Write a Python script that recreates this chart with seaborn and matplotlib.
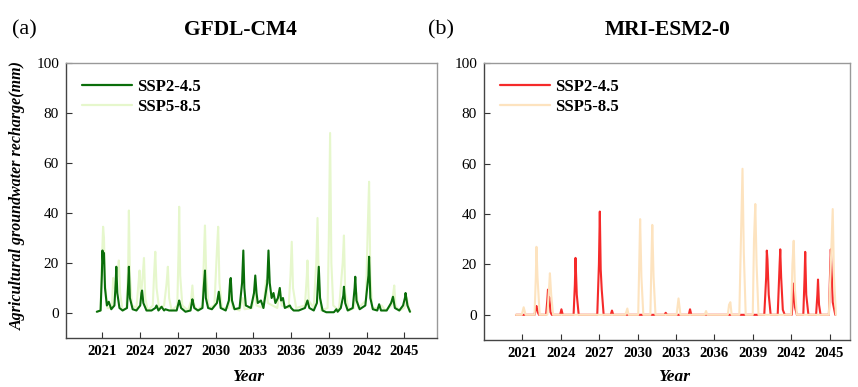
import matplotlib
matplotlib.use("Agg")
import matplotlib.pyplot as plt
import seaborn as sns
import pandas as pd

# ---------------- data ----------------
years_ticks = [2021, 2024, 2027, 2030, 2033, 2036, 2039, 2042, 2045]
series_names = ["SSP2-4.5", "SSP5-8.5"]

gfdl_245_t = [2020.55, 2020.85, 2020.95, 2021.0, 2021.05, 2021.12, 2021.2, 2021.35, 2021.5, 2021.7,
              2021.95, 2022.05, 2022.1, 2022.18, 2022.35, 2022.6, 2022.95, 2023.05, 2023.1, 2023.18,
              2023.4, 2023.7, 2024.0, 2024.1, 2024.15, 2024.25, 2024.5, 2024.9, 2025.2, 2025.3,
              2025.45, 2025.7, 2025.9, 2026.0, 2026.3, 2026.9, 2027.05, 2027.1, 2027.25, 2027.6,
              2028.0, 2028.1, 2028.15, 2028.3, 2028.6, 2028.95, 2029.05, 2029.15, 2029.22, 2029.4,
              2029.7, 2030.1, 2030.25, 2030.4, 2030.8, 2031.05, 2031.15, 2031.2, 2031.3, 2031.5,
              2031.9, 2032.1, 2032.2, 2032.28, 2032.4, 2032.8, 2033.05, 2033.15, 2033.25, 2033.35,
              2033.6, 2033.8, 2034.1, 2034.2, 2034.3, 2034.45, 2034.6, 2034.75, 2034.95, 2035.1,
              2035.2, 2035.35, 2035.5, 2035.9, 2036.0, 2036.2, 2036.6, 2037.1, 2037.3, 2037.45,
              2037.8, 2038.05, 2038.2, 2038.3, 2038.5, 2038.8, 2039.4, 2039.6, 2039.7, 2039.95,
              2040.15, 2040.2, 2040.3, 2040.5, 2040.9, 2041.05, 2041.1, 2041.2, 2041.45, 2041.9,
              2042.15, 2042.2, 2042.3, 2042.5, 2042.85, 2043.0, 2043.15, 2043.6, 2043.95, 2044.1,
              2044.25, 2044.6, 2044.9, 2045.05, 2045.1, 2045.25, 2045.45]
gfdl_245_v = [0.5, 1, 15, 25, 20, 24, 10, 3, 4.5, 1.5,
              3, 12, 18.5, 8, 2, 1, 2, 12, 18.5, 6,
              1.5, 1, 3, 8, 9, 4, 1, 1, 2, 3,
              1, 2.5, 1, 1.5, 1, 1, 4, 5, 2, 0.5,
              1, 4, 5.5, 2, 1, 2, 10, 17, 6, 2,
              1.5, 4, 8.5, 2, 1, 5, 13, 14, 5, 1.5,
              2, 12, 25, 10, 3, 2, 8, 15, 8, 4,
              5, 2, 12, 25, 12, 6, 8, 4, 6, 10,
              5, 6, 2, 3, 2, 1, 1, 2, 5, 2,
              1, 4, 18.5, 6, 1, 0.3, 0.3, 1.5, 0.5, 2,
              7, 10.5, 4, 1, 2, 10, 14.5, 5, 1.5, 3,
              15, 22.5, 6, 1.5, 1, 3.5, 1, 1, 4, 6.5,
              2, 1, 3, 6, 8, 3, 0.5]

gfdl_585_t = [2020.55, 2020.85, 2020.95, 2021.05, 2021.12, 2021.2, 2021.4, 2021.75, 2021.85, 2021.9,
              2022.2, 2022.3, 2022.4, 2022.6, 2022.9, 2023.05, 2023.1, 2023.18, 2023.35, 2023.7,
              2023.9, 2023.95, 2024.05, 2024.2, 2024.3, 2024.4, 2024.6, 2025.0, 2025.1, 2025.2,
              2025.3, 2025.5, 2025.9, 2026.1, 2026.2, 2026.3, 2026.5, 2026.95, 2027.05, 2027.1,
              2027.18, 2027.35, 2027.8, 2028.05, 2028.15, 2028.25, 2028.5, 2028.95, 2029.1, 2029.15,
              2029.25, 2029.45, 2029.9, 2030.1, 2030.2, 2030.3, 2030.5, 2031.0, 2031.2, 2031.35,
              2031.9, 2032.15, 2032.3, 2032.9, 2033.1, 2033.25, 2033.8, 2034.0, 2034.15, 2034.9,
              2035.1, 2035.25, 2035.8, 2035.95, 2036.05, 2036.15, 2036.4, 2037.1, 2037.25, 2037.3,
              2037.4, 2037.8, 2038.0, 2038.1, 2038.2, 2038.4, 2038.9, 2039.0, 2039.1, 2039.2,
              2039.35, 2039.8, 2040.1, 2040.2, 2040.3, 2040.6, 2041.0, 2041.2, 2041.35, 2041.95,
              2042.1, 2042.2, 2042.3, 2042.45, 2042.9, 2043.2, 2043.5, 2044.0, 2044.15, 2044.2,
              2044.3, 2044.6, 2045.0, 2045.2, 2045.35, 2045.5]
gfdl_585_v = [0.5, 1, 20, 34.5, 30, 12, 2, 2, 14, 10,
              15, 21, 8, 1, 2, 20, 41, 15, 3, 2,
              14, 17, 6, 15, 22, 6, 1, 3, 15, 24.5,
              10, 2, 3, 12, 18.5, 6, 1, 3, 25, 42.5,
              15, 3, 1, 5, 11, 4, 1, 3, 28, 35,
              15, 2, 3, 25, 34.5, 12, 2, 2, 8, 2,
              1, 6, 1.5, 2, 10, 3, 2, 13, 4, 2,
              10, 3, 2, 15, 28.5, 10, 2, 3, 15, 21,
              5, 2, 20, 38, 12, 1, 2, 30, 72, 20,
              3, 1, 20, 31, 8, 1, 2, 8, 2, 5,
              35, 52.5, 15, 2, 2, 3, 1, 3, 9, 11,
              3, 1, 2, 6, 2, 0.5]

mri_245_t = [2020.5, 2021.95, 2022.05, 2022.1, 2022.2, 2022.3, 2022.85, 2022.95, 2023.0, 2023.05,
             2023.1, 2023.2, 2023.3, 2023.95, 2024.05, 2024.15, 2025.0, 2025.1, 2025.15, 2025.25,
             2025.4, 2026.85, 2026.98, 2027.05, 2027.12, 2027.2, 2027.35, 2027.9, 2028.0, 2028.1,
             2032.1, 2032.2, 2032.3, 2034.0, 2034.1, 2034.2, 2039.9, 2040.05, 2040.1, 2040.15,
             2040.25, 2040.4, 2040.95, 2041.1, 2041.15, 2041.22, 2041.35, 2041.5, 2042.05, 2042.15,
             2042.2, 2042.3, 2042.45, 2042.95, 2043.05, 2043.1, 2043.18, 2043.35, 2043.95, 2044.05,
             2044.1, 2044.18, 2044.3, 2044.95, 2045.05, 2045.1, 2045.15, 2045.25, 2045.45]
mri_245_v = [0, 0, 3, 3.5, 1, 0, 0, 6, 10, 5,
             7, 1, 0, 0, 2.2, 0, 0, 12, 22.6, 8,
             0, 0, 20, 41, 18, 10, 0, 0, 1.7, 0,
             0, 0.8, 0, 0, 2.2, 0, 0, 15, 25.5, 22,
             8, 0, 0, 20, 26, 15, 2, 0, 0, 8,
             12.4, 3, 0, 0, 15, 25, 8, 0, 0, 8,
             14, 4, 0, 0, 18, 26, 20, 5, 0]

mri_585_t = [2020.5, 2020.95, 2021.1, 2021.25, 2021.95, 2022.05, 2022.1, 2022.18, 2022.35, 2022.95,
             2023.1, 2023.15, 2023.25, 2023.4, 2029.05, 2029.2, 2029.3, 2030.05, 2030.15, 2030.2,
             2030.3, 2030.45, 2031.0, 2031.1, 2031.15, 2031.25, 2031.4, 2033.05, 2033.2, 2033.35,
             2035.25, 2035.35, 2035.45, 2037.05, 2037.15, 2037.25, 2037.35, 2037.95, 2038.1, 2038.2,
             2038.3, 2038.45, 2039.0, 2039.1, 2039.2, 2039.3, 2039.45, 2042.0, 2042.1, 2042.2,
             2042.3, 2042.45, 2044.95, 2045.1, 2045.25, 2045.35, 2045.5]
mri_585_v = [0, 0, 3, 0, 0, 15, 27, 15, 0, 0,
             12, 16.5, 8, 0, 0, 2.5, 0, 0, 25, 38,
             15, 0, 0, 25, 35.7, 15, 0, 0, 6.5, 0,
             0, 1.5, 0, 0, 4, 5, 0, 0, 35, 58,
             25, 0, 0, 30, 44, 20, 0, 0, 20, 29.4,
             10, 0, 0, 20, 42, 15, 0]

# ---------------- style ----------------
sns.set_theme(style="white")
plt.rcParams["font.family"] = ["Liberation Serif", "DejaVu Serif"]
plt.rcParams["text.color"] = "black"
plt.rcParams["axes.labelcolor"] = "black"

fig = plt.figure(figsize=(8.58, 3.87), dpi=100)
ax_a = fig.add_axes([66 / 858, 49 / 387, 371 / 858, 275 / 387])
ax_b = fig.add_axes([484 / 858, 47 / 387, 366 / 858, 277 / 387])

panels = [
    (ax_a, gfdl_245_t, gfdl_245_v, gfdl_585_t, gfdl_585_v, ["#0a6e0a", "#e6f7cc"],
     "GFDL-CM4", "(a)", 240, 12, 248, (3, 2)),
    (ax_b, mri_245_t, mri_245_v, mri_585_t, mri_585_v, ["#f52a2a", "#fde3bf"],
     "MRI-ESM2-0", "(b)", 668, 428, 674, (2, 3)),
]

for ax, t1, v1, t2, v2, cols, title, tag, tx, lx, xx, zo in panels:
    df = pd.concat([
        pd.DataFrame({"Year": t1, "Recharge": v1, "Scenario": series_names[0]}),
        pd.DataFrame({"Year": t2, "Recharge": v2, "Scenario": series_names[1]}),
    ], ignore_index=True)
    sns.lineplot(data=df, x="Year", y="Recharge", hue="Scenario", palette=cols,
                 hue_order=series_names, sort=False, estimator=None, linewidth=1.5, ax=ax)
    lines = ax.get_lines()
    if len(lines) >= 2:
        lines[0].set_zorder(zo[0])
        lines[1].set_zorder(zo[1])
    ax.set_ylim(-10, 100)
    ax.set_xlim(2018.1, 2047.6)
    ax.set_xticks(years_ticks)
    ax.set_xticklabels([str(y) for y in years_ticks], fontweight="bold", fontsize=10.5)
    ax.set_yticks([0, 20, 40, 60, 80, 100])
    ax.set_yticklabels(["0", "20", "40", "60", "80", "100"], fontsize=11)
    ax.tick_params(axis="both", direction="in", length=4, width=0.8, colors="#333333",
                   labelcolor="black", pad=5, left=True, bottom=True)
    for s in ["top", "right"]:
        ax.spines[s].set_color("#999999")
        ax.spines[s].set_linewidth(1.0)
    for s in ["left", "bottom"]:
        ax.spines[s].set_color("#444444")
        ax.spines[s].set_linewidth(1.0)
    ax.set_xlabel("")
    ax.set_ylabel("")
    leg = ax.legend(loc="upper left", frameon=False, fontsize=12, handlelength=3.0,
                    handletextpad=0.3, labelspacing=0.25, borderaxespad=0.55)
    for txt in leg.get_texts():
        txt.set_fontweight("bold")
    for ln in leg.get_lines():
        ln.set_linewidth(1.6)
    fig.text(tx / 858, 1 - 30 / 387, title, ha="center", va="center", fontsize=15.5, fontweight="bold")
    fig.text(lx / 858, 1 - 30 / 387, tag, ha="left", va="center", fontsize=16)
    fig.text(xx / 858, 1 - 377 / 387, "Year", ha="center", va="center", fontsize=12.5,
             fontweight="bold", fontstyle="italic")

ax_b.set_xlim(2018.0, 2046.6)

fig.text(18 / 858, 1 - 196 / 387, "Agricultural groundwater recharge(mm)", rotation=90,
         ha="center", va="center", fontsize=11.5, fontweight="bold", fontstyle="italic")

fig.savefig("out.png", dpi=100)
